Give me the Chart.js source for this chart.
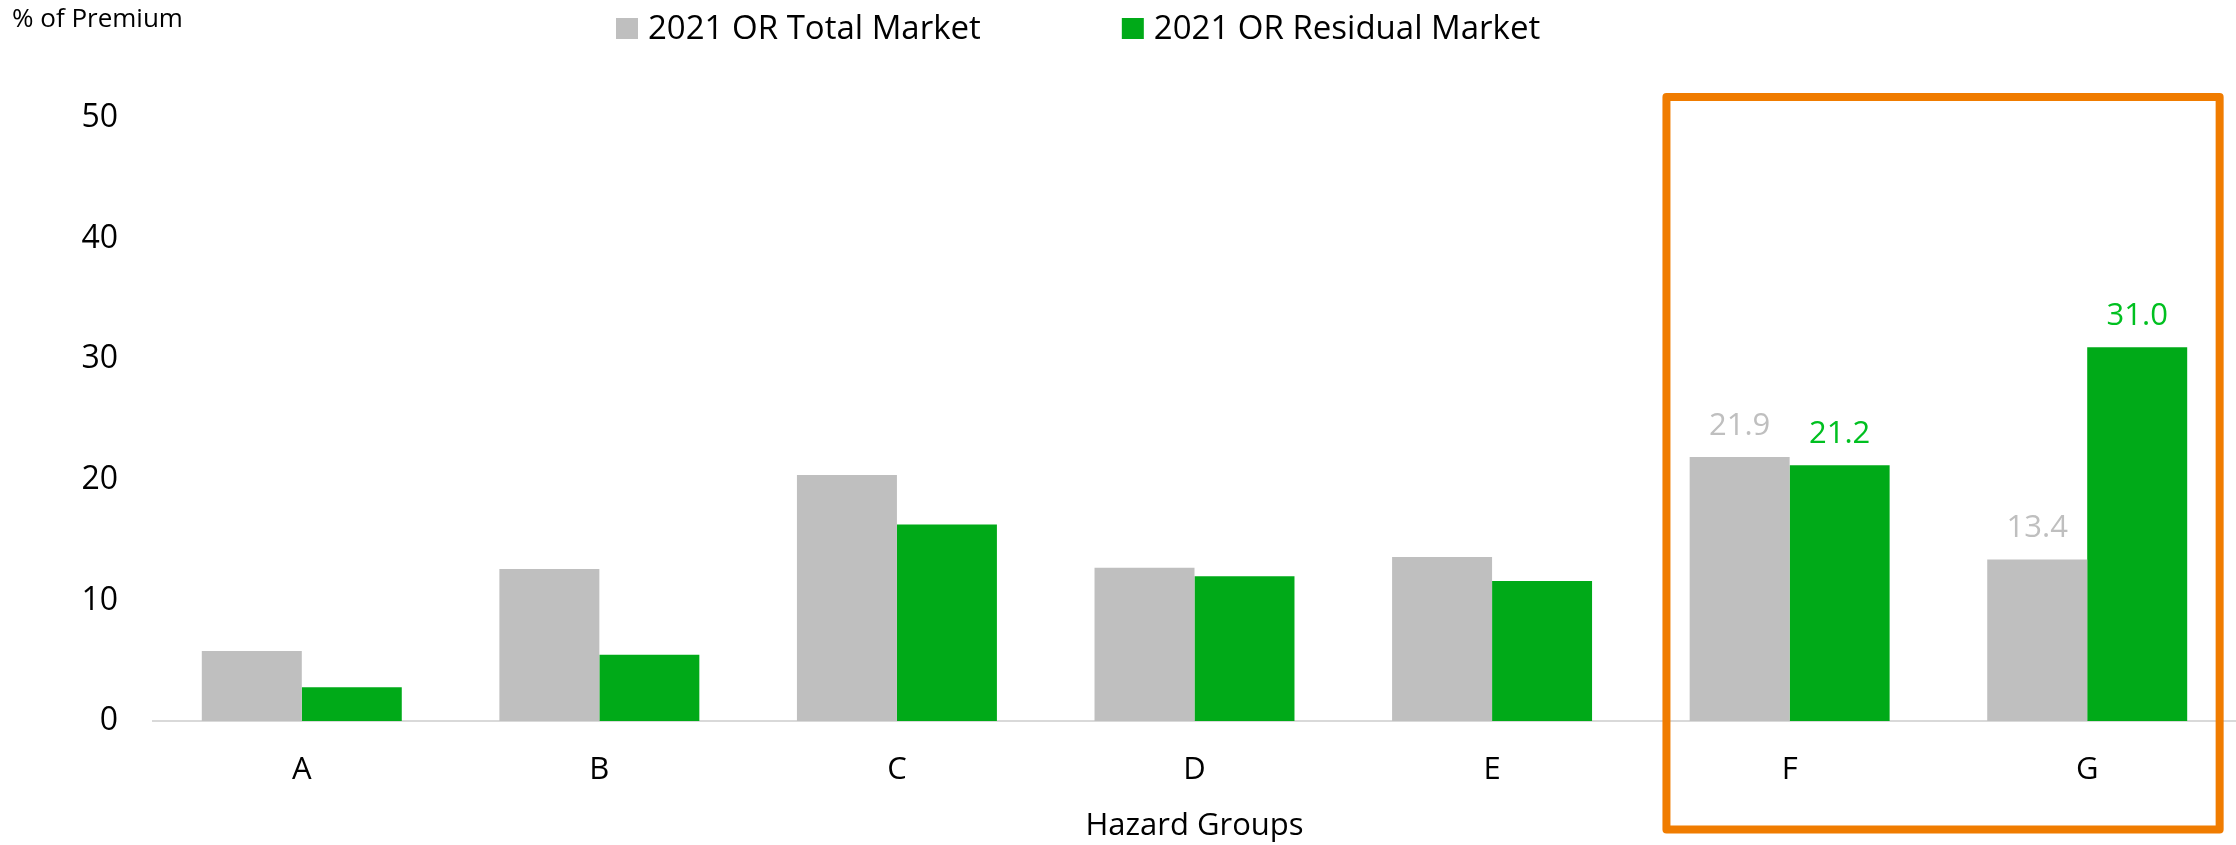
<!DOCTYPE html>
<html>
<head>
<meta charset="utf-8">
<script src="https://cdn.jsdelivr.net/npm/chart.js@4/dist/chart.umd.min.js"></script>
<style>
  html, body { margin: 0; padding: 0; background: #fff; }
  #chartBox { width: 2236px; height: 845px; }
</style>
</head>
<body>
<div id="chartBox"><canvas id="hazardCanvas" width="2236" height="845"></canvas></div>
<script>
var hazardGroups = ["A", "B", "C", "D", "E", "F", "G"];
var totalMarket = [5.8, 12.6, 20.4, 12.7, 13.6, 21.9, 13.4];
var residualMarket = [2.8, 5.5, 16.3, 12.0, 11.6, 21.2, 31.0];
var yTickValues = [0, 10, 20, 30, 40, 50];
var labeledGroups = ["F", "G"]; // groups that get value labels and the orange frame

var seriesNames = ["2021 OR Total Market", "2021 OR Residual Market"];
var barColors = ["#BFBFBF", "#00AA18"];
var valueColors = ["#BFBFBF", "#00C020"];

var FONT = "'Open Sans', sans-serif";

// legend drawn at the top, read from the datasets
var legendPlugin = {
    id: 'topLegend',
    afterDraw: function(chart) {
        var ctx = chart.ctx;
        var x = 616;
        var y = 28.5;
        ctx.save();
        ctx.font = "33px " + FONT;
        ctx.textBaseline = "middle";
        ctx.textAlign = "left";
        chart.data.datasets.forEach(function(ds) {
            ctx.fillStyle = ds.backgroundColor;
            ctx.fillRect(x, y - 10.5, 22, 21);
            ctx.fillStyle = "#000";
            ctx.fillText(ds.label, x + 32, y + 1);
            x += 32 + ctx.measureText(ds.label).width + 141;
        });
        // unit caption in the top left corner
        ctx.font = "26px " + FONT;
        ctx.fillText("% of Premium", 12, 20);
        ctx.restore();
    }
};

// value labels above the bars of the highlighted groups
var valueLabelPlugin = {
    id: 'valueLabels',
    afterDatasetsDraw: function(chart) {
        var ctx = chart.ctx;
        ctx.save();
        ctx.font = "31px " + FONT;
        ctx.textAlign = "center";
        ctx.textBaseline = "alphabetic";
        chart.data.datasets.forEach(function(ds, di) {
            var meta = chart.getDatasetMeta(di);
            labeledGroups.forEach(function(g) {
                var i = chart.data.labels.indexOf(g);
                var bar = meta.data[i];
                ctx.fillStyle = valueColors[di];
                ctx.fillText(ds.data[i].toFixed(1), bar.x, bar.y - 22);
            });
        });
        ctx.restore();
    }
};

// orange frame around the highlighted groups
var framePlugin = {
    id: 'groupFrame',
    afterDraw: function(chart) {
        var xs = chart.scales.x;
        var ys = chart.scales.y;
        var first = chart.data.labels.indexOf(labeledGroups[0]);
        var last = chart.data.labels.indexOf(labeledGroups[labeledGroups.length - 1]);
        var cw = xs.getPixelForValue(1) - xs.getPixelForValue(0);
        var left = xs.getPixelForValue(first) - 0.414 * cw;
        var right = xs.getPixelForValue(last) + 0.445 * cw;
        var top = ys.getPixelForValue(50) - 21;
        var bottom = chart.chartArea.bottom + 108.5;
        var ctx = chart.ctx;
        ctx.save();
        ctx.strokeStyle = "#F07C00";
        ctx.lineWidth = 8;
        ctx.lineJoin = "round";
        ctx.strokeRect(left, top, right - left, bottom - top);
        ctx.restore();
    }
};

var ctx = document.getElementById('hazardCanvas');
var hazardChart = new Chart(ctx, {
    type: 'bar',
    data: {
        labels: hazardGroups,
        datasets: [
            { label: seriesNames[0], data: totalMarket, backgroundColor: barColors[0], borderWidth: 0 },
            { label: seriesNames[1], data: residualMarket, backgroundColor: barColors[1], borderWidth: 0 }
        ]
    },
    options: {
        responsive: false,
        devicePixelRatio: 1,
        animation: false,
        categoryPercentage: 0.672,
        barPercentage: 1.0,
        layout: { padding: { top: 118, left: 0, right: 0, bottom: 0 } },
        plugins: {
            legend: { display: false },
            tooltip: { enabled: false }
        },
        scales: {
            x: {
                grid: { display: false, drawTicks: false },
                border: { display: true, color: "#D9D9D9", width: 2 },
                ticks: { font: { family: FONT, size: 31 }, color: "#000", padding: 31 },
                title: {
                    display: true,
                    text: "Hazard Groups",
                    font: { family: FONT, size: 31 },
                    color: "#000",
                    padding: { top: 0, bottom: 0 }
                },
                afterFit: function(scale) { scale.height = 124; }
            },
            y: {
                min: 0,
                max: 50,
                grid: { display: false, drawTicks: false },
                border: { display: false },
                ticks: { font: { family: FONT, size: 32 }, color: "#000", padding: 35 },
                afterBuildTicks: function(scale) {
                    scale.ticks = yTickValues.map(function(v) { return { value: v }; });
                },
                afterFit: function(scale) { scale.width = 153; }
            }
        }
    },
    plugins: [legendPlugin, valueLabelPlugin, framePlugin]
});
</script>
</body>
</html>
